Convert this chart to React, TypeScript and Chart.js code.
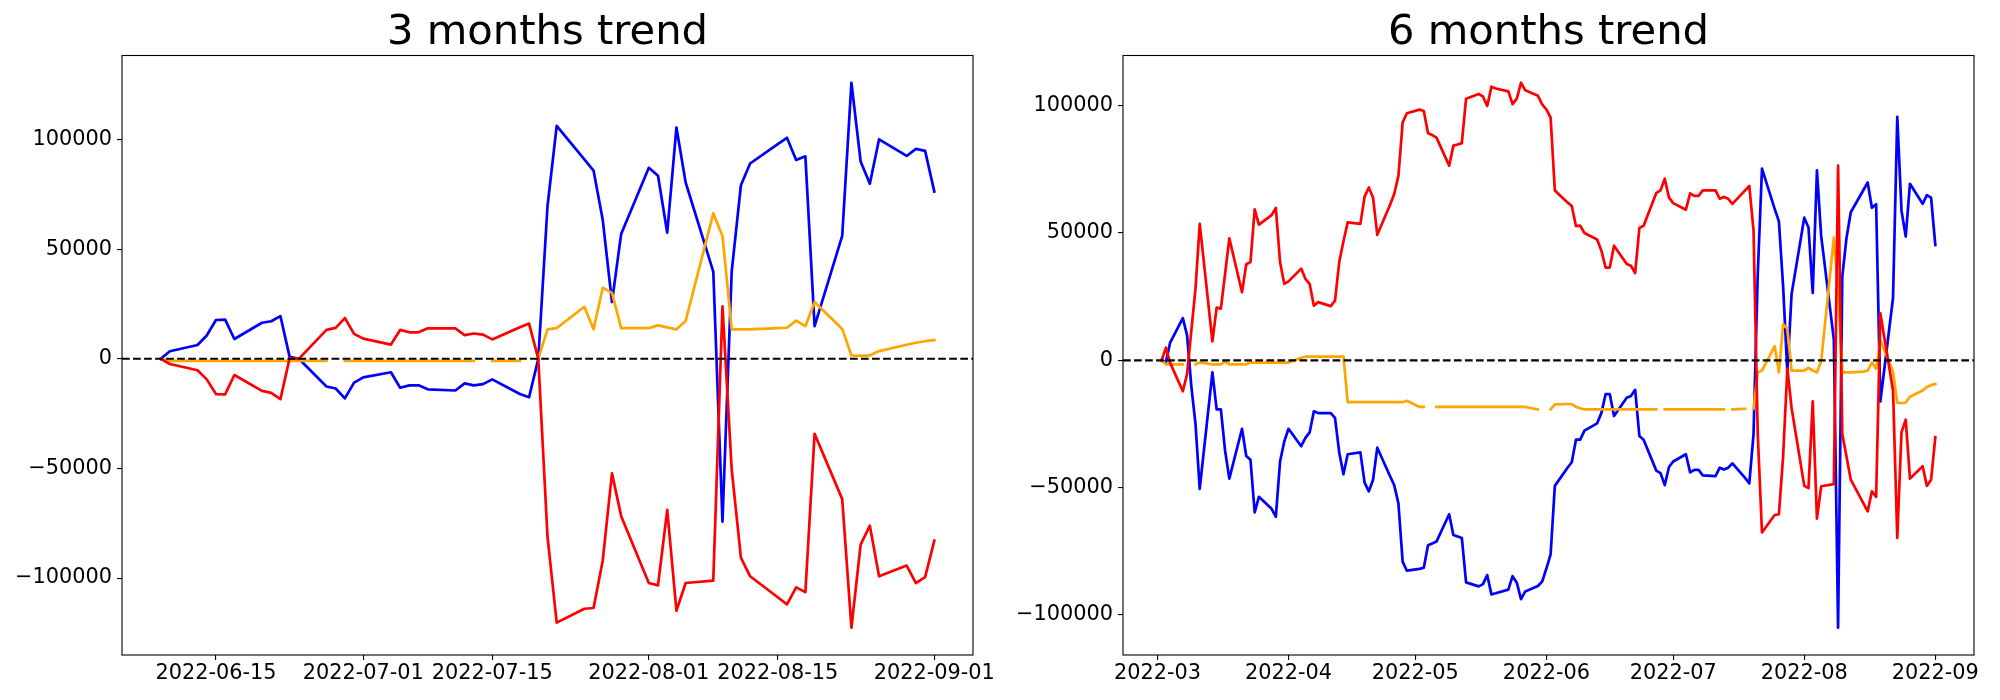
import React, { useEffect, useRef } from "react";
import { Chart, registerables } from "chart.js";

Chart.register(...registerables);

// ---------------- 3 months trend ----------------
const DATES_3M = [
  "2022-06-09", "2022-06-10", "2022-06-13", "2022-06-14", "2022-06-15", "2022-06-16", "2022-06-17", "2022-06-20", "2022-06-21", "2022-06-22", "2022-06-23", "2022-06-24", "2022-06-27", "2022-06-28", "2022-06-29", "2022-06-30",
  "2022-07-01", "2022-07-04", "2022-07-05", "2022-07-06", "2022-07-07", "2022-07-08", "2022-07-11", "2022-07-12", "2022-07-13", "2022-07-14", "2022-07-15", "2022-07-18", "2022-07-19", "2022-07-20", "2022-07-21", "2022-07-22", "2022-07-25", "2022-07-26", "2022-07-27", "2022-07-28", "2022-07-29",
  "2022-08-01", "2022-08-02", "2022-08-03", "2022-08-04", "2022-08-05", "2022-08-08", "2022-08-09", "2022-08-10", "2022-08-11", "2022-08-12", "2022-08-15", "2022-08-16", "2022-08-17", "2022-08-18", "2022-08-19", "2022-08-22", "2022-08-23", "2022-08-24", "2022-08-25", "2022-08-26", "2022-08-29", "2022-08-30", "2022-08-31",
  "2022-09-01",
];
const BLUE_3M: (number | null)[] = [
  0, 3430, 6320, 10650, 17690, 17870, 9030, 16430, 17150, 19500, 900, 0, -12640, -13540, -18050, -10830,
  -8480, -6140, -13180, -12090, -12090, -13900, -14440, -11190, -12090, -11550, -9390, -16070, -17510, 0, 69580, 106220, 91000, 85830, 63270, 25900, 56950,
  87090, 83480, 57490, 105500, 80410, 39800, -74280, 39800, 79150, 89080, 97920, 100800, 90700, 92330, 14890, 56050, 125900, 89980, 79870, 100090, 92510, 95750, 94850,
  76260,
];
const RED_3M: (number | null)[] = [
  0, -2350, -5230, -9390, -16070, -16250, -7400, -14620, -15520, -18410, 300, 0, 13180, 14080, 18590, 11370,
  9200, 6500, 13180, 12090, 12090, 13900, 13900, 10830, 11550, 11010, 8850, 14440, 16070, 0, -81050, -120300, -113990, -113630, -91960, -52250, -71750,
  -102250, -103340, -68860, -114890, -102250, -101170, 23920, -50450, -90700, -99180, -108750, -112000, -104240, -106400, -34200, -63990, -122650, -84750, -76080, -99180, -94310, -102250, -99550,
  -82940,
];
const ORANGE_3M: (number | null)[] = [
  0, -900, -900, -900, -900, -900, -900, -900, -900, -900, -900, -900, -900, null, -900, -900,
  -900, -900, -900, -900, -900, -900, -900, -900, -900, null, -900, -900, null, 0, 13450, 13990, 23740, 13450, 32400, 30050, 13990,
  13990, 15250, 14350, 13450, 17240, 66330, 56050, 13450, 13450, 13450, 13990, 14170, 17420, 14890, 25900, 13630, 1530, 1350, 1530, 3520, 6410, 7310, 8030,
  8570,
];
const X_TICKS_3M = ["2022-06-15", "2022-07-01", "2022-07-15", "2022-08-01", "2022-08-15", "2022-09-01"];
const X_LABELS_3M = ["2022-06-15", "2022-07-01", "2022-07-15", "2022-08-01", "2022-08-15", "2022-09-01"];

// ---------------- 6 months trend ----------------
const DATES_6M = [
  "2022-03-02", "2022-03-03", "2022-03-04", "2022-03-07", "2022-03-08", "2022-03-09", "2022-03-10", "2022-03-11", "2022-03-14", "2022-03-15", "2022-03-16", "2022-03-17", "2022-03-18", "2022-03-21", "2022-03-22", "2022-03-23", "2022-03-24", "2022-03-25", "2022-03-28", "2022-03-29", "2022-03-30", "2022-03-31",
  "2022-04-01", "2022-04-04", "2022-04-05", "2022-04-06", "2022-04-07", "2022-04-08", "2022-04-11", "2022-04-12", "2022-04-13", "2022-04-14", "2022-04-15", "2022-04-18", "2022-04-19", "2022-04-20", "2022-04-21", "2022-04-22", "2022-04-25", "2022-04-26", "2022-04-27", "2022-04-28", "2022-04-29",
  "2022-05-02", "2022-05-03", "2022-05-04", "2022-05-05", "2022-05-06", "2022-05-09", "2022-05-10", "2022-05-11", "2022-05-12", "2022-05-13", "2022-05-16", "2022-05-17", "2022-05-18", "2022-05-19", "2022-05-20", "2022-05-23", "2022-05-24", "2022-05-25", "2022-05-26", "2022-05-27", "2022-05-30", "2022-05-31",
  "2022-06-01", "2022-06-02", "2022-06-03", "2022-06-06", "2022-06-07", "2022-06-08", "2022-06-09", "2022-06-10", "2022-06-13", "2022-06-14", "2022-06-15", "2022-06-16", "2022-06-17", "2022-06-20", "2022-06-21", "2022-06-22", "2022-06-23", "2022-06-24", "2022-06-27", "2022-06-28", "2022-06-29", "2022-06-30",
  "2022-07-01", "2022-07-04", "2022-07-05", "2022-07-06", "2022-07-07", "2022-07-08", "2022-07-11", "2022-07-12", "2022-07-13", "2022-07-14", "2022-07-15", "2022-07-18", "2022-07-19", "2022-07-20", "2022-07-21", "2022-07-22", "2022-07-25", "2022-07-26", "2022-07-27", "2022-07-28", "2022-07-29",
  "2022-08-01", "2022-08-02", "2022-08-03", "2022-08-04", "2022-08-05", "2022-08-08", "2022-08-09", "2022-08-10", "2022-08-11", "2022-08-12", "2022-08-15", "2022-08-16", "2022-08-17", "2022-08-18", "2022-08-19", "2022-08-22", "2022-08-23", "2022-08-24", "2022-08-25", "2022-08-26", "2022-08-29", "2022-08-30", "2022-08-31",
  "2022-09-01",
];
const BLUE_6M: (number | null)[] = [
  0, -700, 7000, 16580, 9860, -9900, -25000, -50440, -4720, -19290, -19290, -35500, -46440, -26870, -37580, -39010, -59730, -53590, -58300, -61450, -39730, -31870,
  -26870, -33720, -30440, -28290, -20010, -20720, -20720, -22580, -36150, -44730, -36870, -36150, -48010, -51440, -46870, -34300, -45440, -49010, -56160, -79020, -82600,
  -81880, -81450, -72590, -71880, -71160, -60450, -68590, -69160, -69740, -87170, -88740, -87880, -84310, -91880, -91460, -90030, -84740, -87310, -93740, -90740, -88600, -86880,
  -81740, -76170, -49300, -42160, -40010, -31150, -31150, -27580, -24720, -20720, -13290, -13290, -21860, -14720, -14000, -11570, -29720, -31150, -43300, -44300, -49010, -41870,
  -39730, -36870, -44010, -43010, -43010, -45160, -45440, -42160, -42870, -42160, -40440, -46160, -48300, -29010, 33870, 75310, 59500, 54590, 29000, -4720, 26010,
  56020, 52160, 26440, 74590, 48870, 8150, -105000, 33000, 48160, 58160, 66880, 69880, 59880, 61300, -16150, 24580, 95600, 58870, 48590, 69310, 61450, 64880, 63880,
  45300,
];
const RED_6M: (number | null)[] = [
  0, 5000, -1000, -12150, -5430, 11430, 28150, 53590, 7430, 20720, 20290, 34000, 47870, 26720, 37730, 38580, 59300, 53300, 57020, 59870, 38580, 30010,
  31000, 36010, 32010, 30010, 21440, 22860, 21290, 23440, 38580, 46730, 54160, 53590, 64300, 67880, 63880, 49300, 61020, 65310, 72450, 93460, 97030,
  98460, 97890, 89170, 88450, 87450, 76450, 84310, 84740, 85300, 102750, 104600, 103600, 99890, 107460, 106750, 105600, 100600, 102750, 109000, 106030, 103890, 100500,
  98500, 95300, 66700, 62020, 60590, 52730, 52870, 50020, 47440, 43160, 36440, 36440, 45010, 37870, 37150, 34300, 52020, 52870, 65730, 66730, 71310, 63880,
  61730, 59160, 65590, 64590, 64590, 66730, 66730, 63450, 64160, 63450, 61450, 66730, 68450, 51020, -29010, -67590, -60730, -60450, -37580, -3290, -18720,
  -49300, -50160, -16150, -62160, -49440, -48590, 76450, -29000, -37870, -46870, -56160, -59300, -51440, -53590, 18430, -11860, -69740, -28290, -23290, -46440, -41580, -49300, -46870,
  -30150,
];
const ORANGE_6M: (number | null)[] = [
  0, -1570, -1570, -1570, null, null, -1570, -860, -1570, -1570, -1570, -430, -1570, -1570, -1570, -860, -860, -860, -860, -860, -860, -860,
  -860, 1000, 1430, 1430, 1430, 1430, 1430, 1430, 1430, 1430, -16430, -16430, -16430, -16430, -16430, -16430, -16430, -16430, -16430, -16430, -15860,
  -18290, -18290, null, null, -18290, -18290, -18290, -18290, -18290, -18290, -18290, -18290, -18290, -18290, -18290, -18290, -18290, -18290, -18290, -18290, -19290, null,
  null, -19290, -17290, -17150, -17150, -18290, -18800, -19290, -19290, -19290, -19290, -19290, -19290, -19290, -19290, -19290, -19290, -19290, -19290, null, -19290, -19290,
  -19290, -19290, -19290, -19290, -19290, -19290, -19290, -19290, -19290, null, -19290, -19000, null, -19000, -4720, -4000, 5570, -4720, 14150, 12430, -4000,
  -4000, -3000, -4000, -4720, -430, 48160, 28000, -4720, -4720, -4720, -4430, -4000, -860, -3290, 7860, -4430, -16580, -16860, -16580, -14290, -11860, -10430, -9720,
  -9290,
];
const X_TICKS_6M = ["2022-03-01", "2022-04-01", "2022-05-01", "2022-06-01", "2022-07-01", "2022-08-01", "2022-09-01"];
const X_LABELS_6M = ["2022-03", "2022-04", "2022-05", "2022-06", "2022-07", "2022-08", "2022-09"];

const Y_TICKS = [-100000, -50000, 0, 50000, 100000];

const DAY_MS = 86400000;
function toDay(s: string): number {
  const [y, m, d] = s.split("-").map(Number);
  return Date.UTC(y, m - 1, d) / DAY_MS;
}
function fmtY(v: number): string {
  return v < 0 ? "\u2212" + String(Math.abs(v)) : String(v);
}

const FONT = "'DejaVu Sans', 'Liberation Sans', sans-serif";
Chart.defaults.font.family = FONT;

type Props = {
  dates: string[];
  blue: (number | null)[];
  red: (number | null)[];
  orange: (number | null)[];
  xTicks: string[];
  xLabels: string[];
  title: string;
  left: number;
  axisWidth: number;
  rightPad: number;
};

function TrendChart(props: Props) {
  const ref = useRef<HTMLCanvasElement | null>(null);
  useEffect(() => {
    const { dates, blue, red, orange, xTicks, xLabels, title, axisWidth, rightPad } = props;
    const xs = dates.map(toDay);
    const toPts = (arr: (number | null)[]) => arr.map((v, i) => ({ x: xs[i], y: v }));
    const vals = [...blue, ...red, ...orange].filter((v) => v !== null) as number[];
    const yLo = Math.min(...vals);
    const yHi = Math.max(...vals);
    const yPad = (yHi - yLo) * 0.05;
    const xLo = xs[0];
    const xHi = xs[xs.length - 1];
    const xPad = (xHi - xLo) * 0.05;
    const tickDays = xTicks.map(toDay);

    const overlay = {
      id: "overlay",
      afterDatasetsDraw(chart: any) {
        const { ctx, chartArea: a } = chart;
        const py = chart.scales.y.getPixelForValue(0);
        ctx.save();
        ctx.beginPath();
        ctx.rect(a.left, a.top, a.right - a.left, a.bottom - a.top);
        ctx.clip();
        ctx.strokeStyle = "#000000";
        ctx.lineWidth = 2.1;
        ctx.lineCap = "butt";
        ctx.setLineDash([7.7, 3.33]);
        ctx.beginPath();
        ctx.moveTo(a.left, py);
        ctx.lineTo(a.right, py);
        ctx.stroke();
        ctx.restore();
      },
      afterDraw(chart: any) {
        const { ctx, chartArea: a } = chart;
        ctx.save();
        ctx.strokeStyle = "#000000";
        ctx.lineWidth = 1.1;
        ctx.setLineDash([]);
        ctx.strokeRect(a.left, a.top, a.right - a.left, a.bottom - a.top);
        ctx.restore();
      },
    };

    const line = (data: any[], color: string) => ({
      data,
      borderColor: color,
      backgroundColor: color,
      borderWidth: 2.7,
      pointRadius: 0,
      pointHoverRadius: 0,
      tension: 0,
      fill: false,
      spanGaps: false,
      borderJoinStyle: "round" as const,
      borderCapStyle: "square" as const,
    });

    const axisCommon = {
      grid: {
        display: true,
        drawOnChartArea: false,
        drawTicks: true,
        tickLength: 5,
        color: "#000000",
        lineWidth: 1.1,
      },
      border: { display: false },
    };

    const chart = new Chart(ref.current as HTMLCanvasElement, {
      type: "line",
      data: {
        datasets: [
          line(toPts(red), "#ff0000"),
          line(toPts(orange), "#ffa500"),
          line(toPts(blue), "#0000ff"),
        ] as any,
      },
      options: {
        responsive: false,
        animation: false,
        events: [],
        layout: { padding: { left: 0, right: rightPad, top: 0, bottom: 0 } },
        plugins: {
          legend: { display: false },
          tooltip: { enabled: false },
          title: {
            display: true,
            text: title,
            fullSize: false,
            color: "#000000",
            font: { family: FONT, size: 41.7, weight: "normal", lineHeight: 1 },
            padding: { top: 12, bottom: 1.8 },
          },
        },
        scales: {
          x: {
            type: "linear",
            min: xLo - xPad,
            max: xHi + xPad,
            afterBuildTicks: (s: any) => {
              s.ticks = tickDays.map((v) => ({ value: v }));
            },
            afterFit: (s: any) => {
              s.height = 45;
            },
            ticks: {
              autoSkip: false,
              maxRotation: 0,
              minRotation: 0,
              padding: 1,
              color: "#000000",
              font: { family: FONT, size: 20.83 },
              callback: (_v: any, i: number) => xLabels[i],
            },
            ...axisCommon,
          },
          y: {
            type: "linear",
            min: yLo - yPad,
            max: yHi + yPad,
            afterBuildTicks: (s: any) => {
              s.ticks = Y_TICKS.map((v) => ({ value: v }));
            },
            afterFit: (s: any) => {
              s.width = axisWidth;
            },
            ticks: {
              autoSkip: false,
              padding: 5,
              color: "#000000",
              font: { family: FONT, size: 20.83 },
              callback: (v: any) => fmtY(Number(v)),
            },
            ...axisCommon,
          },
        },
      } as any,
      plugins: [overlay],
    });
    return () => chart.destroy();
  }, []);
  return (
    <canvas
      ref={ref}
      width={1000}
      height={700}
      style={{ position: "absolute", left: props.left, top: 0, width: 1000, height: 700 }}
    />
  );
}

export default function App() {
  return (
    <div style={{ position: "absolute", left: 0, top: 0, width: 2000, height: 700, background: "#ffffff" }}>
      <TrendChart
        dates={DATES_3M}
        blue={BLUE_3M}
        red={RED_3M}
        orange={ORANGE_3M}
        xTicks={X_TICKS_3M}
        xLabels={X_LABELS_3M}
        title="3 months trend"
        left={0}
        axisWidth={122}
        rightPad={27}
      />
      <TrendChart
        dates={DATES_6M}
        blue={BLUE_6M}
        red={RED_6M}
        orange={ORANGE_6M}
        xTicks={X_TICKS_6M}
        xLabels={X_LABELS_6M}
        title="6 months trend"
        left={1000}
        axisWidth={123}
        rightPad={26}
      />
    </div>
  );
}
